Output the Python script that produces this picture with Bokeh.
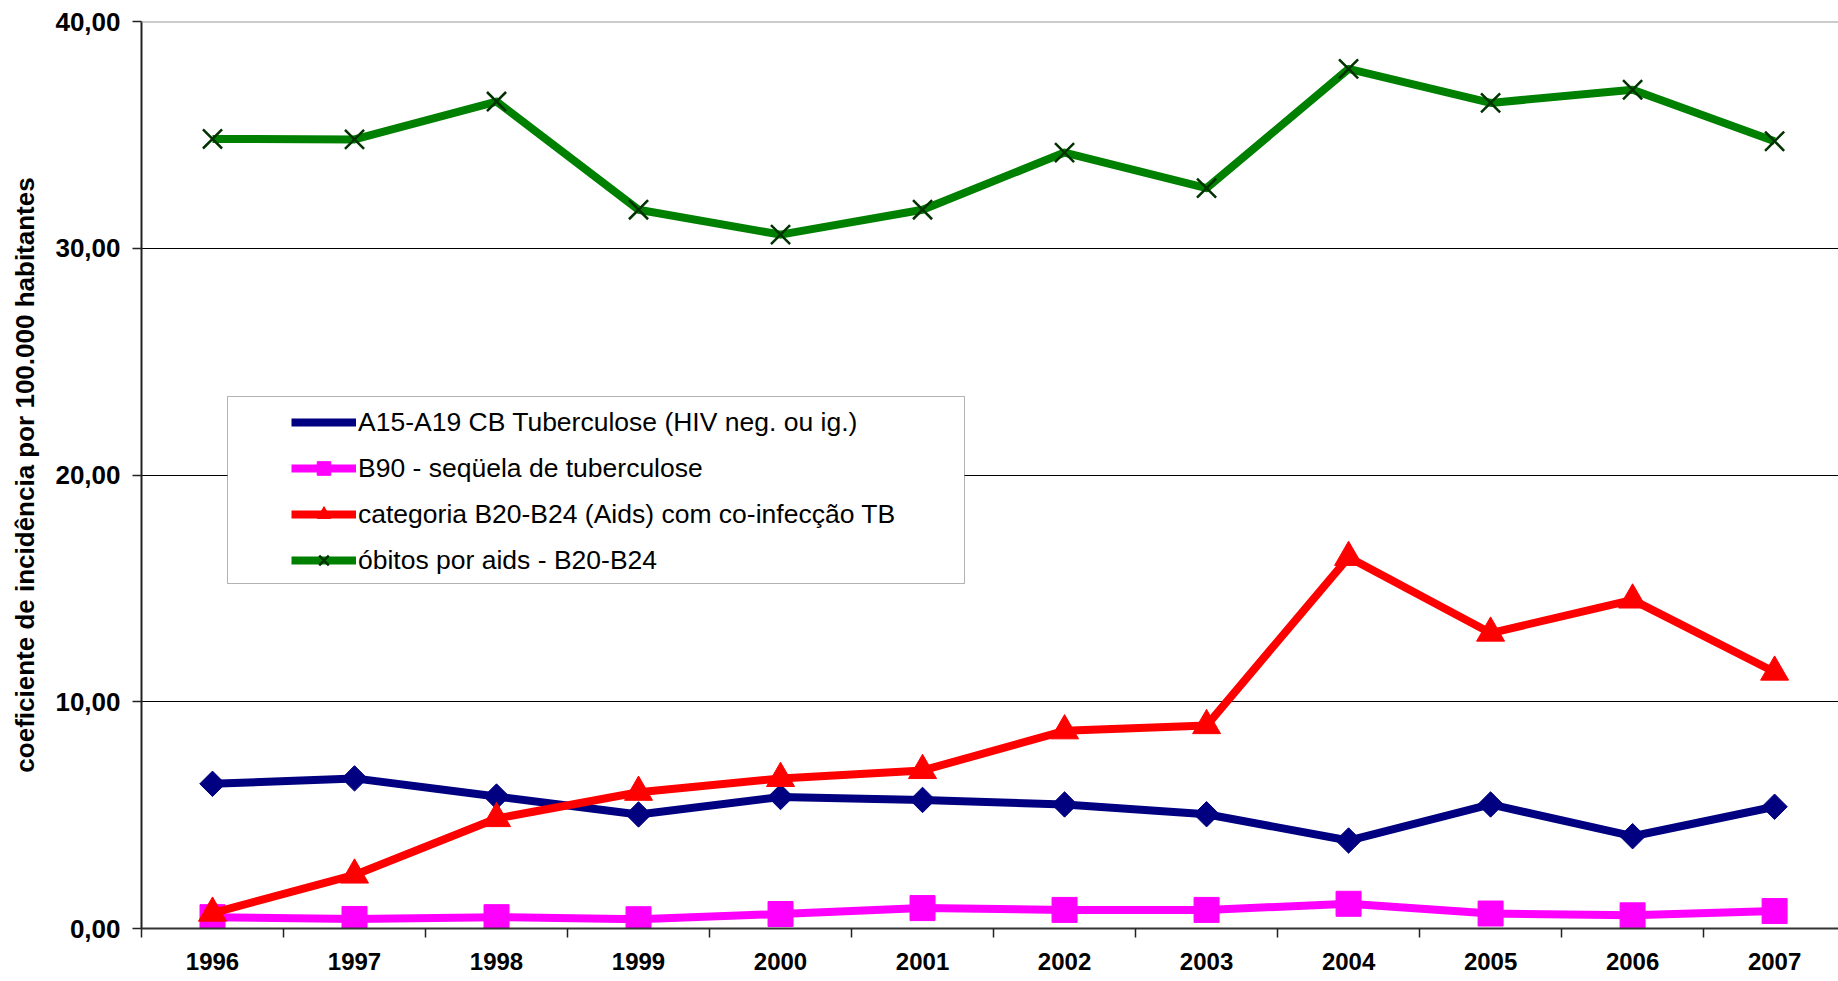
from bokeh.plotting import figure
from bokeh.models import (ColumnDataSource, FixedTicker, Legend, LegendItem,
                          BoxAnnotation, Span, Range1d)
from bokeh.embed import file_html
from bokeh.resources import INLINE
import math

# ---------------- data ----------------
years = [1996, 1997, 1998, 1999, 2000, 2001, 2002, 2003, 2004, 2005, 2006, 2007]
tb_hiv_neg = [6.38, 6.62, 5.82, 5.03, 5.80, 5.67, 5.47, 5.04, 3.88, 5.47, 4.07, 5.37]
sequela_tb = [0.50, 0.42, 0.50, 0.41, 0.64, 0.90, 0.82, 0.82, 1.09, 0.66, 0.58, 0.77]
aids_coinf_tb = [0.68, 2.36, 4.85, 6.01, 6.62, 6.97, 8.72, 8.95, 16.37, 13.03, 14.49, 11.31]
obitos_aids = [34.82, 34.80, 36.47, 31.70, 30.60, 31.70, 34.22, 32.65, 37.91, 36.41, 36.99, 34.72]

series_labels = [
    "A15-A19 CB Tuberculose (HIV neg. ou ig.)",
    "B90 - seqüela de tuberculose",
    "categoria B20-B24 (Aids) com co-infecção TB",
    "óbitos por aids - B20-B24",
]
y_ticks = [0, 10, 20, 30, 40]
y_tick_labels = ["0,00", "10,00", "20,00", "30,00", "40,00"]
y_label = "coeficiente de incidência por 100.000 habitantes"

FONT = "Liberation Sans"
NAVY, MAGENTA, RED, GREEN, DARKGREEN = "#000080", "#FF00FF", "#FF0000", "#008000", "#003300"

source = ColumnDataSource(dict(
    year=years, tb=tb_hiv_neg, seq=sequela_tb, aids=aids_coinf_tb, obitos=obitos_aids))

p = figure(width=1838, height=981, output_backend="svg", toolbar_location=None,
           x_range=Range1d(years[0] - 0.5, 2007.45), y_range=Range1d(y_ticks[0], y_ticks[-1]),
           min_border=0, min_border_left=141, min_border_top=21, min_border_bottom=53)
p.background_fill_color = "white"
p.border_fill_color = "white"
p.outline_line_color = None

# series (drawn in Excel series order)
l1 = p.line("year", "tb", source=source, line_width=8, line_color=NAVY, line_join="round")
m1 = p.scatter("year", "tb", source=source, marker="square", angle=math.pi / 4, size=18,
               fill_color=NAVY, line_color=NAVY)
l2 = p.line("year", "seq", source=source, line_width=8, line_color=MAGENTA, line_join="round")
m2 = p.scatter("year", "seq", source=source, marker="square", size=25,
               fill_color=MAGENTA, line_color=MAGENTA)
l3 = p.line("year", "aids", source=source, line_width=8, line_color=RED, line_join="round")
m3 = p.scatter("year", "aids", source=source, marker="triangle", size=28,
               fill_color=RED, line_color=RED)
l4 = p.line("year", "obitos", source=source, line_width=8, line_color=GREEN, line_join="round")
m4 = p.scatter("year", "obitos", source=source, marker="x", size=27,
               line_color=DARKGREEN, line_width=2.5)

# legend-only diamond swatch (no data of its own)
lg1 = p.scatter(x=[], y=[], marker="diamond", size=18, fill_color=NAVY, line_color=NAVY)

# axes
p.xaxis.ticker = FixedTicker(ticks=years, minor_ticks=[y - 0.5 for y in years] + [years[-1] + 0.5])
p.xaxis.major_label_overrides = {y: str(y) for y in years}
p.xaxis.major_tick_out = 0
p.xaxis.major_tick_in = 0
p.xaxis.minor_tick_out = 9
p.xaxis.minor_tick_in = 0
p.xaxis.minor_tick_line_color = "#222222"
p.xaxis.minor_tick_line_width = 1.5
p.xaxis.axis_line_color = "#333333"
p.xaxis.axis_line_width = 2
p.xaxis.major_label_standoff = 15
p.xaxis.major_label_text_font = FONT
p.xaxis.major_label_text_font_style = "bold"
p.xaxis.major_label_text_font_size = "24px"
p.xaxis.major_label_text_color = "black"

p.yaxis.ticker = FixedTicker(ticks=y_ticks)
p.yaxis.major_label_overrides = dict(zip(y_ticks, y_tick_labels))
p.yaxis.major_tick_out = 9
p.yaxis.major_tick_in = 0
p.yaxis.minor_tick_line_color = None
p.yaxis.major_tick_line_color = "#222222"
p.yaxis.major_tick_line_width = 1.5
p.yaxis.axis_line_color = "#222222"
p.yaxis.axis_line_width = 2
p.yaxis.major_label_standoff = 12
p.yaxis.major_label_text_font = FONT
p.yaxis.major_label_text_font_style = "bold"
p.yaxis.major_label_text_font_size = "26px"
p.yaxis.major_label_text_color = "black"
p.yaxis.axis_label = y_label
p.yaxis.axis_label_text_font = FONT
p.yaxis.axis_label_text_font_style = "bold"
p.yaxis.axis_label_text_font_size = "26px"
p.yaxis.axis_label_text_color = "black"
p.yaxis.axis_label_standoff = 12

p.xgrid.grid_line_color = None
p.ygrid.ticker = FixedTicker(ticks=y_ticks[1:-1])
p.ygrid.grid_line_color = "black"
p.ygrid.grid_line_width = 1

p.add_layout(Span(location=y_ticks[-1], dimension="width", line_color="#999999", line_width=2))

# legend frame
p.add_layout(BoxAnnotation(left=86, right=823, bottom=345, top=532,
                           left_units="screen", right_units="screen",
                           top_units="screen", bottom_units="screen",
                           fill_color="white", fill_alpha=1.0,
                           line_color="black", line_width=1))

legend = Legend(items=[
    LegendItem(label=series_labels[0], renderers=[l1, lg1]),
    LegendItem(label=series_labels[1], renderers=[l2, m2]),
    LegendItem(label=series_labels[2], renderers=[l3, m3]),
    LegendItem(label=series_labels[3], renderers=[l4, m4]),
], location=(150, 345))
legend.padding = 2
legend.margin = 0
legend.spacing = 0
legend.glyph_width = 65
legend.glyph_height = 34
legend.label_height = 46
legend.label_standoff = 2
legend.label_text_font = FONT
legend.label_text_font_size = "26.5px"
legend.label_text_color = "black"
legend.border_line_color = None
legend.background_fill_alpha = 0
p.add_layout(legend)

open("out.html", "w").write(file_html(p, INLINE))
